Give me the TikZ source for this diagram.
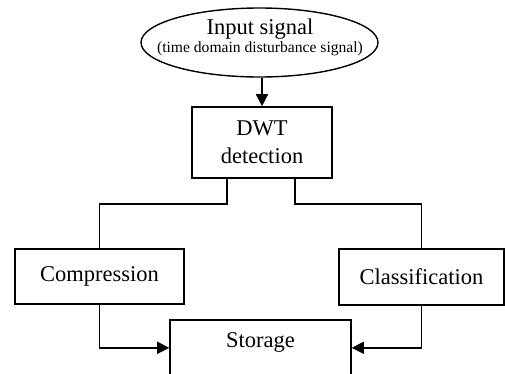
\documentclass[tikz,border=0pt]{standalone}
\usepackage{fontspec}
\setmainfont{Liberation Serif}
\usetikzlibrary{shapes.geometric,arrows.meta}
\begin{document}
\begin{tikzpicture}[x=1pt,y=-1pt,
  box/.style={draw,line width=1.6pt,inner sep=0pt,align=center,
    font=\fontsize{22.5}{28}\selectfont},
  link/.style={line width=1.6pt},
  arr/.style={link,-{Triangle[length=12pt,width=12pt]}}]
\useasboundingbox (0,0) rectangle (505,373);
% source: outline and its two-line caption
\node[draw,ellipse,line width=1.4pt,minimum width=237pt,minimum height=69pt,
  inner sep=0pt] (in) at (259.5,42.5) {};
\node[align=center,inner sep=0pt,font=\fontsize{15.6}{18}\selectfont] (intext) at (260,37.8)
  {{\fontsize{22.5}{18}\selectfont Input signal}\\(time domain disturbance signal)};
% processing blocks
\node[box,minimum width=140pt,minimum height=71pt] (dwt) at (262,142.5) {DWT\\detection};
\node[box,minimum width=169pt,minimum height=55pt] (comp) at (99.5,276.5) {Compression};
\node[box,minimum width=165pt,minimum height=56pt] (cls) at (421.5,277) {Classification};
\node[box,minimum width=181pt,anchor=north,text height=28pt,text depth=28pt] (stor) at (260.5,319) {Storage};
% connectors
\draw[arr] (in.south -| dwt.north) -- (dwt.north);
\draw[link] ([xshift=-35pt]dwt.south) |- ([yshift=44pt]comp.north) -- (comp.north);
\draw[link] ([xshift=33pt]dwt.south) |- ([yshift=44pt]cls.north) -- (cls.north);
\draw[arr] (comp.south) |- (stor.west);
\draw[arr] (cls.south) |- (stor.east);
\end{tikzpicture}
\end{document}
